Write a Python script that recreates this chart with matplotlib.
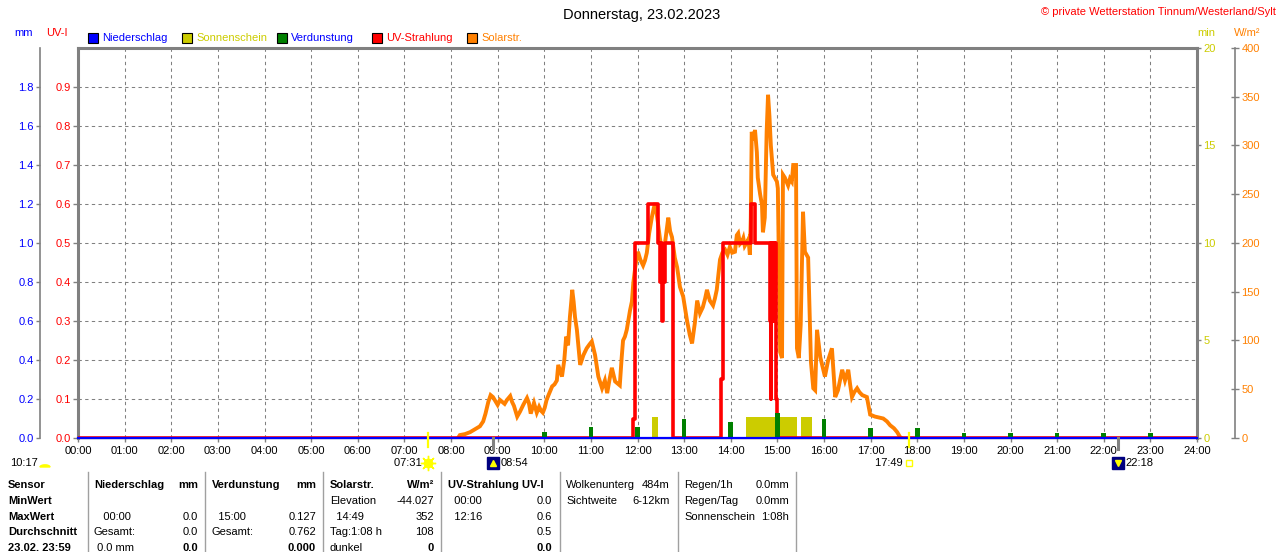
import matplotlib
matplotlib.use('Agg')
import matplotlib.pyplot as plt
import matplotlib.patches as mpatches
from matplotlib.transforms import blended_transform_factory
import numpy as np

plt.rcParams['font.family'] = ['Liberation Sans', 'DejaVu Sans']
plt.rcParams['font.size'] = 8

# ---------------- data ----------------
hours = list(range(25))
hour_labels = [f"{h:02d}:00" for h in hours]
uv_ticks = [0.0, 0.1, 0.2, 0.3, 0.4, 0.5, 0.6, 0.7, 0.8, 0.9]
mm_ticks = [0.0, 0.2, 0.4, 0.6, 0.8, 1.0, 1.2, 1.4, 1.6, 1.8]
min_ticks = [0, 5, 10, 15, 20]
wm2_ticks = [0, 50, 100, 150, 200, 250, 300, 350, 400]

solar_time = [8.15, 8.19, 8.30, 8.41, 8.48, 8.55, 8.62, 8.69, 8.74, 8.80, 8.85, 8.90, 8.95,
              9.00, 9.05, 9.10, 9.15, 9.20, 9.27, 9.31, 9.35, 9.42, 9.48,
              9.55, 9.63, 9.67, 9.71, 9.78, 9.84, 9.89, 9.93, 9.97, 10.01, 10.05, 10.10,
              10.17, 10.22, 10.27, 10.30, 10.34, 10.38, 10.43,
              10.47, 10.51, 10.55, 10.58, 10.60, 10.63, 10.66, 10.70, 10.77, 10.84, 10.91,
              10.97, 11.02, 11.09, 11.16, 11.20,
              11.24, 11.30, 11.35, 11.40, 11.45, 11.52, 11.57, 11.62, 11.66, 11.69, 11.73,
              11.77, 11.84, 11.88, 11.91, 11.96,
              12.01, 12.06, 12.12, 12.16, 12.20, 12.25, 12.31, 12.35, 12.38, 12.44, 12.48,
              12.52, 12.59, 12.63, 12.66, 12.70, 12.74, 12.80, 12.85,
              12.91, 12.98, 13.02, 13.06, 13.12, 13.17, 13.23, 13.28, 13.34, 13.40, 13.45,
              13.49, 13.55, 13.62, 13.66,
              13.70, 13.77, 13.82, 13.88, 13.93, 13.98, 14.03, 14.09, 14.13, 14.16, 14.20,
              14.24, 14.27, 14.30, 14.35, 14.38, 14.41, 14.43, 14.45,
              14.49, 14.52, 14.56, 14.58, 14.63, 14.67, 14.69, 14.73, 14.77, 14.80, 14.83,
              14.86, 14.91, 14.99,
              15.01, 15.06, 15.10, 15.12, 15.16, 15.23, 15.27, 15.31, 15.34, 15.40, 15.42, 15.46,
              15.50, 15.55, 15.59, 15.66, 15.72, 15.77, 15.81, 15.85, 15.92, 16.02, 16.09,
              16.13, 16.17, 16.24, 16.30, 16.39, 16.45, 16.52, 16.56, 16.60, 16.65, 16.71,
              16.76, 16.82, 16.92, 16.99,
              17.09, 17.18, 17.27, 17.35, 17.42, 17.50, 17.57, 17.63, 17.66]
solar_wm2 = [0, 3, 4, 6, 8, 10, 12, 17, 25, 37, 44, 42, 38,
             34, 39, 37, 35, 39, 43, 37, 33, 22, 27,
             34, 41, 36, 25, 36, 26, 32, 28, 26, 31, 39, 45,
             53, 55, 59, 75, 69, 63, 80,
             104, 95, 124, 140, 152, 140, 124, 111, 75, 85, 92,
             96, 99, 85, 63, 57,
             51, 59, 46, 60, 72, 58, 56, 54, 82, 100, 104,
             111, 131, 140, 159, 178,
             191, 183, 177, 182, 190, 210, 227, 236, 241, 220, 205,
             193, 200, 215, 226, 212, 206, 185, 175,
             155, 145, 133, 121, 106, 97, 118, 141, 128, 134, 143,
             152, 141, 136, 143,
             152, 183, 190, 193, 188, 196, 190, 191, 208, 210, 199,
             201, 205, 197, 201, 204, 188, 226, 314,
             305, 316, 293, 267, 250, 239, 211, 226, 314, 352, 330,
             300, 270, 263,
             256, 88, 82, 270, 267, 259, 266, 263, 280, 280, 92, 82,
             116, 232, 191, 185, 78, 51, 49, 111, 83, 63, 80,
             86, 92, 42, 49, 70, 59, 70, 55, 42, 47, 51,
             47, 44, 42, 24,
             22, 21, 20, 17, 13, 10, 6, 1, 0]

uv_time = [0, 11.90, 11.94, 12.23, 12.45, 12.49, 12.51, 12.53, 12.55, 12.58, 12.77,
           13.80, 13.84, 14.43, 14.52, 14.84, 14.855, 14.865, 14.88, 14.895, 14.91,
           14.925, 14.94, 14.955, 14.97, 14.99, 24]
uv_index = [0, 0.05, 0.5, 0.6, 0.5, 0.4, 0.5, 0.3, 0.4, 0.5, 0.0,
            0.15, 0.5, 0.6, 0.5, 0.3, 0.1, 0.5, 0.3, 0.5, 0.3,
            0.5, 0.3, 0.5, 0.1, 0.0, 0.0]

sun_start = [12.31, 14.33, 15.51]
sun_end = [12.44, 15.42, 15.74]
sun_min = [1.1, 1.1, 1.1]

evap_time = [10, 11, 12, 13, 14, 15, 16, 17, 18, 19, 20, 21, 22, 23]
evap_mm = [0.03, 0.055, 0.055, 0.10, 0.08, 0.127, 0.10, 0.05, 0.05, 0.025, 0.025, 0.025, 0.025, 0.025]

rain_time = [0, 24]
rain_mm = [0.0, 0.0]

daylength = "10:17"
sunrise, sunset = "07:31", "17:49"
moonrise, moonset = "08:54", "22:18"

title = "Donnerstag, 23.02.2023"
copyright_text = "© private Wetterstation Tinnum/Westerland/Sylt"

legend_items = [("Niederschlag", '#0000ff', '#0000ff'),
                ("Sonnenschein", '#cccc00', '#cccc00'),
                ("Verdunstung", '#008000', '#0000ff'),
                ("UV-Strahlung", '#ff0000', '#ff0000'),
                ("Solarstr.", '#ff8000', '#ff8000')]

# ---------------- styles ----------------
BLUE, RED, YEL, GREEN, ORANGE, GRAY = '#0000ff', '#ff0000', '#cccc00', '#008000', '#ff8000', '#808080'
W, H = 1280, 552


def fx(x):
    return x / W


def fy(y):
    return 1 - y / H


def hhmm(s):
    h, m = s.split(':')
    return int(h) + int(m) / 60


fig = plt.figure(figsize=(12.8, 5.52), dpi=100)
L, R, T, B = 78, 1197, 48, 438
ax = fig.add_axes([fx(L), fy(B), (R - L) / W, (B - T) / H])
ax.set_xlim(0, 24)
ax.set_ylim(0, 1.0)
ax.set_xticks(hours)
ax.set_xticklabels(hour_labels)
ax.set_yticks(uv_ticks)
ax.set_yticklabels([f"{v:.1f}" for v in uv_ticks])
ax.tick_params(axis='y', colors=GRAY, labelcolor=RED, length=3.6, width=1, pad=1.5, labelsize=8)
ax.tick_params(axis='x', colors=GRAY, labelcolor='black', length=3, width=1, pad=3, labelsize=8)
for s in ['left', 'top', 'right']:
    ax.spines[s].set_color(GRAY)
    ax.spines[s].set_linewidth(2.2)
ax.spines['bottom'].set_color(GRAY)
ax.spines['bottom'].set_linewidth(1.0)
dash = (0, (3.2, 3.2))
for h in hours[1:-1]:
    ax.axvline(h, color=GRAY, lw=0.75, ls=dash, zorder=0)
for v in uv_ticks[1:]:
    ax.axhline(v, color=GRAY, lw=0.75, ls=dash, zorder=0)


def clean(a):
    for s in a.spines.values():
        s.set_visible(False)
    a.set_xlim(0, 24)


# sunshine (min)
ax_sun = ax.twinx()
clean(ax_sun)
ax_sun.set_ylim(0, 20)
ax_sun.set_yticks(min_ticks)
ax_sun.set_yticklabels([str(v) for v in min_ticks])
ax_sun.tick_params(axis='y', colors=GRAY, labelcolor=YEL, length=3, width=1, pad=1.5, labelsize=8)
ax_sun.bar(sun_start, sun_min, width=np.array(sun_end) - np.array(sun_start), align='edge',
           color=YEL, linewidth=0)

# solar radiation
ax_sol = ax.twinx()
clean(ax_sol)
ax_sol.set_ylim(0, 400)
ax_sol.spines['right'].set_visible(True)
ax_sol.spines['right'].set_position(('axes', 1 + 38 / (R - L)))
ax_sol.spines['right'].set_color(GRAY)
ax_sol.spines['right'].set_linewidth(1.2)
ax_sol.set_yticks(wm2_ticks)
ax_sol.set_yticklabels([str(v) for v in wm2_ticks])
ax_sol.tick_params(axis='y', colors=GRAY, labelcolor=ORANGE, direction='inout', length=6, width=1,
                   pad=1.5, labelsize=8)
ax_sol.plot(solar_time, solar_wm2, color=ORANGE, lw=2.8, solid_joinstyle='miter')

# UV index
ax_uv = ax.twinx()
clean(ax_uv)
ax_uv.set_ylim(0, 1.0)
ax_uv.set_yticks([])
ax_uv.plot(uv_time, uv_index, color=RED, lw=2.6, drawstyle='steps-post')

# evaporation + precipitation (mm)
ax_mm = ax.twinx()
clean(ax_mm)
ax_mm.set_ylim(0, 2.0)
ax_mm.yaxis.set_ticks_position('left')
ax_mm.yaxis.set_label_position('left')
ax_mm.spines['left'].set_visible(True)
ax_mm.spines['left'].set_position(('axes', -38 / (R - L)))
ax_mm.spines['left'].set_color(GRAY)
ax_mm.spines['left'].set_linewidth(1.2)
ax_mm.set_yticks(mm_ticks)
ax_mm.set_yticklabels([f"{v:.1f}" for v in mm_ticks])
ax_mm.tick_params(axis='y', colors=GRAY, labelcolor=BLUE, length=3, width=1, pad=1.5, labelsize=8)
ax_mm.bar(evap_time, evap_mm, width=0.1, color=GREEN, linewidth=0)
ax_mm.plot(rain_time, rain_mm, color=BLUE, lw=1.6, clip_on=False, zorder=5)

# sunrise / sunset / moon marks on the time axis
bt = blended_transform_factory(ax.transData, ax.transAxes)
for t in [sunrise, sunset]:
    ax_mm.plot([hhmm(t)] * 2, [-0.024, 0.013], color='#ffff00', lw=1.6, transform=bt, clip_on=False, zorder=6)
for t in [moonrise, moonset]:
    ax_mm.plot([hhmm(t)] * 2, [-0.027, 0.0], color=GRAY, lw=2.2, transform=bt, clip_on=False, zorder=6)

# ---------------- texts on top ----------------
fig.text(fx(642), fy(15), title, ha='center', va='center', fontsize=10.5)
fig.text(fx(1276), fy(12), copyright_text, ha='right', va='center', color=RED, fontsize=8)
fig.text(fx(14), fy(33), "mm", ha='left', va='center', color=BLUE)
fig.text(fx(46), fy(33), "UV-I", ha='left', va='center', color=RED)
fig.text(fx(1197), fy(33), "min", ha='left', va='center', color=YEL)
fig.text(fx(1234), fy(33), "W/m²", ha='left', va='center', color=ORANGE)

leg_x = [88, 182, 277, 372, 467]
for (name, col, tcol), x0 in zip(legend_items, leg_x):
    fig.add_artist(mpatches.Rectangle((fx(x0), fy(43)), 10 / W, 10 / H, transform=fig.transFigure,
                                      facecolor=col, edgecolor='black', lw=0.8))
    fig.text(fx(x0 + 14), fy(38), name, ha='left', va='center', color=tcol)

# ---------------- labels below time axis ----------------
bf = blended_transform_factory(ax.transData, fig.transFigure)
fig.text(fx(10), fy(463), daylength, ha='left', va='center')
fig.add_artist(mpatches.Wedge((fx(45), fy(467)), 5 / W, 0, 180, transform=fig.transFigure,
                              facecolor='#ffff00', edgecolor='#ffff00'))
# sunrise
tr = hhmm(sunrise)
ax_mm.text(tr, fy(463), sunrise + "  ", transform=bf, ha='right', va='center', fontsize=8)
ax_mm.plot([tr], [fy(463)], marker='o', ms=6, color='#ffff00', transform=bf, clip_on=False)
ax_mm.plot([tr], [fy(463)], marker=(8, 2, 0), ms=11, color='#ffff00', mew=1, transform=bf, clip_on=False)
# sunset
ts = hhmm(sunset)
ax_mm.text(ts, fy(463), sunset + "  ", transform=bf, ha='right', va='center', fontsize=8)
ax_mm.plot([ts], [fy(463)], marker='s', ms=5, mfc='white', mec='#ffff00', mew=1, transform=bf, clip_on=False)
# moonrise / moonset
for t, up in [(moonrise, True), (moonset, False)]:
    tm = hhmm(t)
    ax_mm.plot([tm], [fy(463)], marker='s', ms=9, color='#000080', transform=bf, clip_on=False)
    ax_mm.plot([tm], [fy(463)], marker='^' if up else 'v', ms=4, color='#ffff00', transform=bf, clip_on=False)
    ax_mm.text(tm + 0.17, fy(463), t, transform=bf, ha='left', va='center', fontsize=8)

# ---------------- statistics table ----------------
row_y = [485, 501, 517, 532, 548]
for xs in [88, 205, 323, 441, 560, 678, 796]:
    fig.add_artist(plt.Line2D([fx(xs), fx(xs)], [fy(472), fy(552)], color='#a0a0a0', lw=1,
                              transform=fig.transFigure))

col1 = ["Sensor", "MinWert", "MaxWert", "Durchschnitt", "23.02. 23:59"]
for y, s in zip(row_y, col1):
    fig.text(fx(8), fy(y), s, ha='left', va='center', fontweight='bold')

# (x_left, x_right, rows of (left text, right text, left bold, right bold))
table_cols = [
    (94, 198, [("Niederschlag", "mm", True, True), ("", "", False, False),
               ("   00:00", "0.0", False, False), ("Gesamt:", "0.0", False, False),
               (" 0.0 mm", "0.0", False, True)]),
    (212, 316, [("Verdunstung", "mm", True, True), ("", "", False, False),
                ("  15:00", "0.127", False, False), ("Gesamt:", "0.762", False, False),
                ("", "0.000", False, True)]),
    (330, 434, [("Solarstr.", "W/m²", True, True), ("Elevation", "-44.027", False, False),
                ("  14:49", "352", False, False), ("Tag:1:08 h", "108", False, False),
                ("dunkel", "0", False, True)]),
    (448, 552, [("UV-Strahlung UV-I", "", True, True), ("  00:00", "0.0", False, False),
                ("  12:16", "0.6", False, False), ("", "0.5", False, False),
                ("", "0.0", False, True)]),
    (566, 670, [("Wolkenunterg", "484m", False, False), ("Sichtweite", "6-12km", False, False),
                ("", "", False, False), ("", "", False, False), ("", "", False, False)]),
    (684, 789, [("Regen/1h", "0.0mm", False, False), ("Regen/Tag", "0.0mm", False, False),
                ("Sonnenschein", "1:08h", False, False), ("", "", False, False), ("", "", False, False)]),
]
for xl, xr, rows in table_cols:
    for y, (lt, rt, lb, rb) in zip(row_y, rows):
        if lt:
            fig.text(fx(xl), fy(y), lt, ha='left', va='center', fontweight='bold' if lb else 'normal')
        if rt:
            fig.text(fx(xr), fy(y), rt, ha='right', va='center', fontweight='bold' if rb else 'normal')

fig.savefig('out.png', dpi=100)
